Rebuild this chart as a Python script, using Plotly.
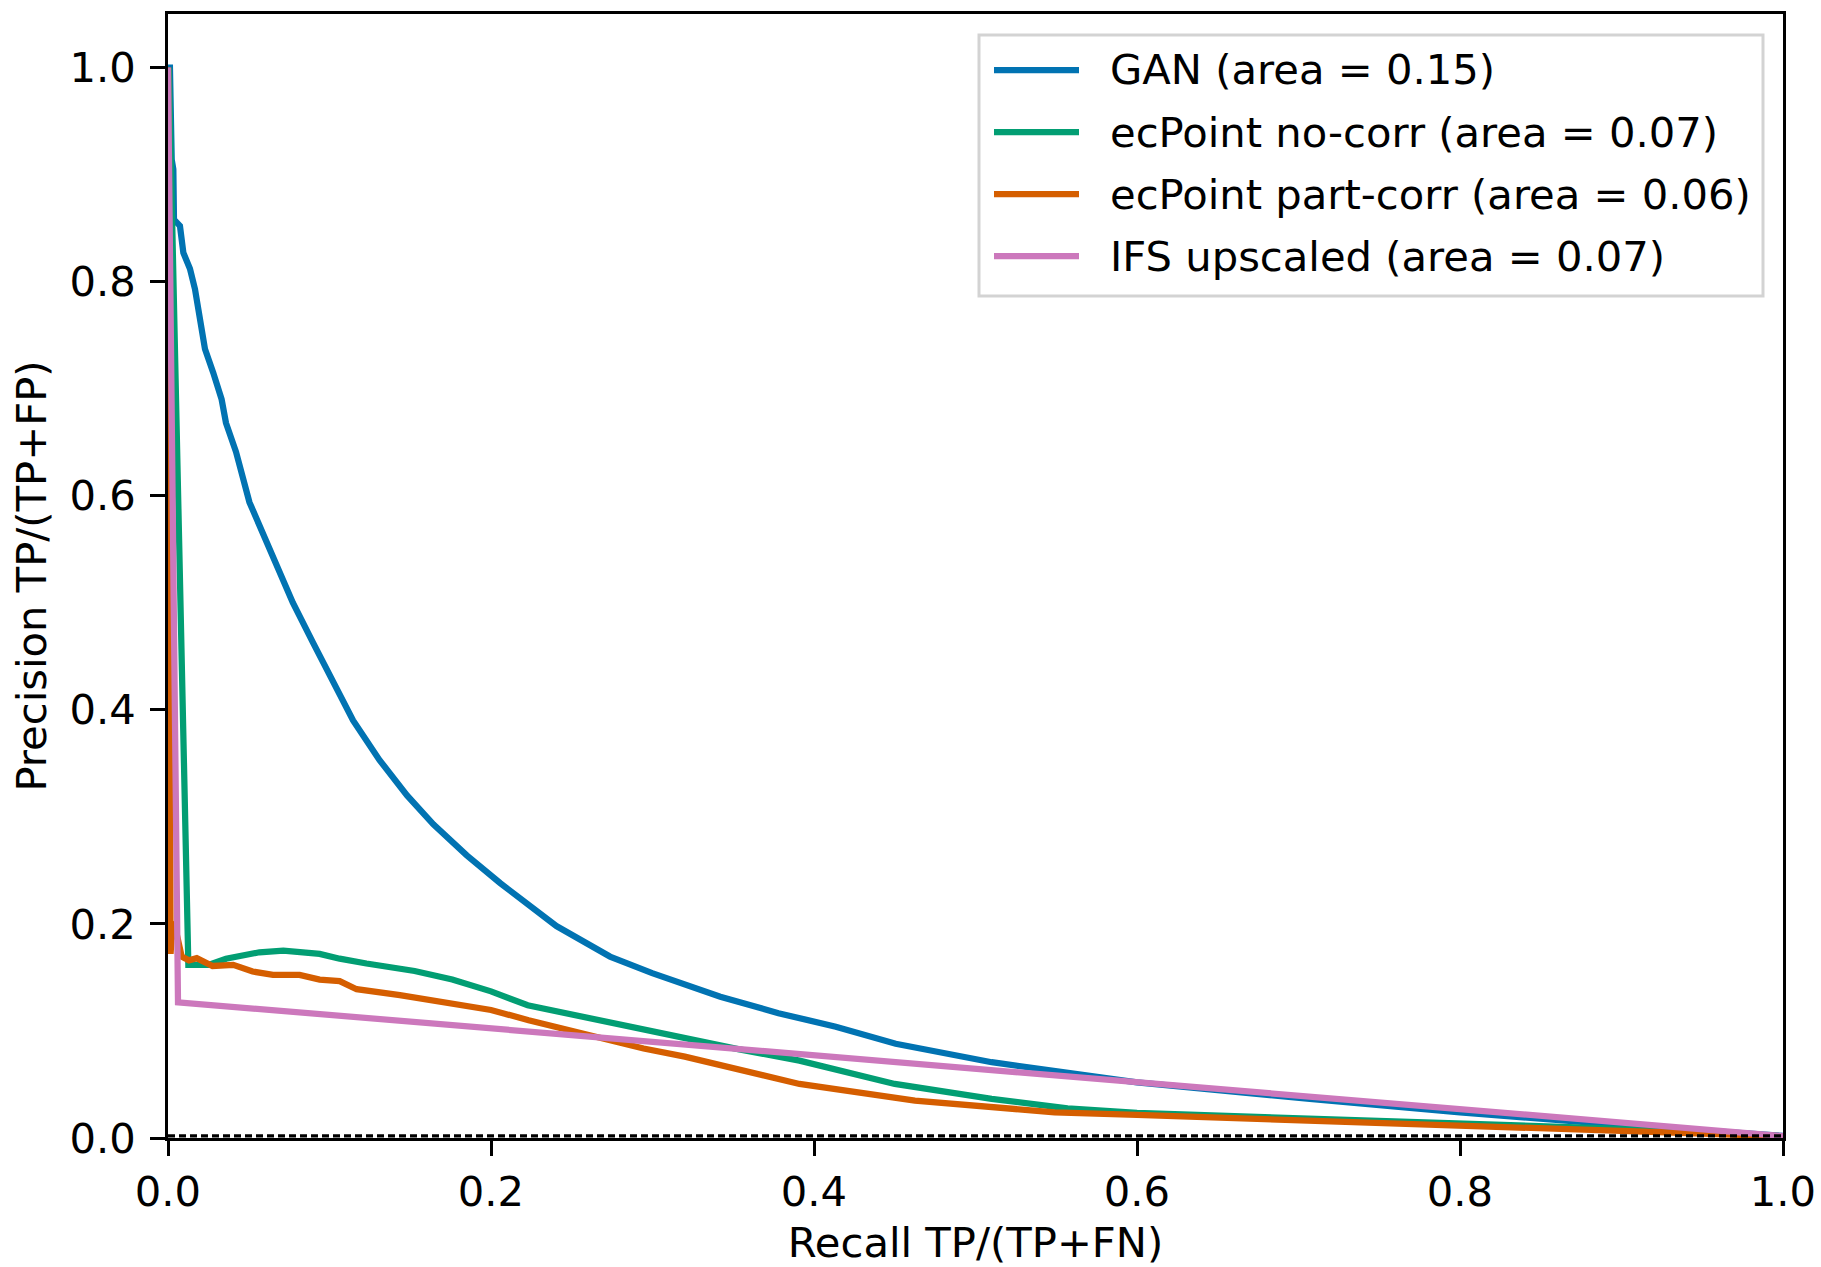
import plotly.graph_objects as go

# ---- precision/recall curves -------------------------------------------
gan_recall = [0.0, 0.0012, 0.0023, 0.0033, 0.0037, 0.0074, 0.0095, 0.0136, 0.0167,
              0.0198, 0.0229, 0.028, 0.0332, 0.0359, 0.0421, 0.0504, 0.0576, 0.067,
              0.0773, 0.0897, 0.102, 0.1146, 0.131, 0.148, 0.1643, 0.185, 0.2058,
              0.2265, 0.2405, 0.2737, 0.2998, 0.342, 0.378, 0.4135, 0.4506, 0.51,
              0.6, 0.707, 0.8, 0.905, 1.0]
gan_precision = [1.0, 1.0, 0.914, 0.905, 0.858, 0.852, 0.827, 0.812, 0.793,
                 0.768, 0.737, 0.715, 0.690, 0.668, 0.641, 0.594, 0.568, 0.534,
                 0.500, 0.463, 0.427, 0.390, 0.353, 0.320, 0.293, 0.264, 0.238,
                 0.215, 0.198, 0.1695, 0.154, 0.132, 0.1166, 0.104, 0.088, 0.0708,
                 0.052, 0.0365, 0.024, 0.0115, 0.002]

nocorr_recall = [0.0005, 0.0126, 0.0255, 0.0359, 0.0566, 0.0714, 0.0939, 0.1063,
                 0.1229, 0.1333, 0.1527, 0.176, 0.2, 0.2227, 0.2627, 0.2935, 0.329,
                 0.353, 0.391, 0.45, 0.51, 0.557, 0.6, 0.707, 0.8, 0.905, 1.0]
nocorr_precision = [1.0, 0.1618, 0.1618, 0.1675, 0.1735, 0.175, 0.172, 0.1675,
                    0.163, 0.161, 0.156, 0.148, 0.137, 0.124, 0.111, 0.1016, 0.0907,
                    0.083, 0.0723, 0.0505, 0.0365, 0.0277, 0.0234, 0.0178, 0.013,
                    0.0084, 0.0016]

partcorr_recall = [0.0, 0.0012, 0.0016, 0.0029, 0.0043, 0.0055, 0.0085, 0.013,
                   0.0178, 0.0276, 0.0404, 0.0524, 0.065, 0.0815, 0.0939, 0.1063,
                   0.1168, 0.1436, 0.1746, 0.2, 0.2233, 0.247, 0.2708, 0.2945, 0.32,
                   0.35, 0.391, 0.4625, 0.549, 0.6, 0.707, 0.8, 0.905, 1.0]
partcorr_precision = [1.0, 0.257, 0.172, 0.202, 0.188, 0.19, 0.1695, 0.166,
                      0.168, 0.1607, 0.1618, 0.1555, 0.1524, 0.1524, 0.148, 0.1466,
                      0.139, 0.1335, 0.126, 0.1196, 0.110, 0.1008, 0.0914, 0.0836,
                      0.076, 0.065, 0.0505, 0.0349, 0.024, 0.0215, 0.0162, 0.0115,
                      0.0053, 0.0016]

ifs_recall = [0.0, 0.0062, 1.0]
ifs_precision = [1.0, 0.1268, 0.0018]

series_names = ["GAN (area = 0.15)",
                "ecPoint no-corr (area = 0.07)",
                "ecPoint part-corr (area = 0.06)",
                "IFS upscaled (area = 0.07)"]
series_colors = ["#0173b2", "#029e73", "#d55e00", "#cc78bc"]

# no-skill reference: fraction of positive cases
no_skill_recall = [0.0, 1.0]
no_skill_precision = [0.002, 0.002]

tick_vals = [0.0, 0.2, 0.4, 0.6, 0.8, 1.0]

# ---- figure geometry (pixels) -----------------------------------------
W, H = 1821, 1267
ML, MR, MT, MB = 168, 38, 14, 129
PW, PH = W - ML - MR, H - MT - MB
FONT = dict(family="DejaVu Sans", size=41.7, color="black")
LINE_W = 6.25

fig = go.Figure()
curves = [(gan_recall, gan_precision), (nocorr_recall, nocorr_precision),
          (partcorr_recall, partcorr_precision), (ifs_recall, ifs_precision)]
for (rx, py), name, col in zip(curves, series_names, series_colors):
    fig.add_trace(go.Scatter(x=rx, y=py, mode="lines", name=name,
                             line=dict(color=col, width=LINE_W),
                             showlegend=False))

fig.add_trace(go.Scatter(x=no_skill_recall, y=no_skill_precision, mode="lines",
                         line=dict(color="black", width=3.3, dash="7px,4px"),
                         showlegend=False, hoverinfo="skip"))

axis_common = dict(showline=True, linecolor="black", linewidth=3.3, mirror=True,
                   ticks="outside", ticklen=14.6, tickwidth=3.3, tickcolor="black",
                   showgrid=False, zeroline=False, tickvals=tick_vals,
                   tickformat=".1f", tickfont=FONT, automargin=False)

fig.update_xaxes(range=[0, 1], ticklabelstandoff=0,
                 title=dict(text="Recall TP/(TP+FN)", font=FONT, standoff=21),
                 **axis_common)
fig.update_yaxes(range=[0, 1.05], ticklabelstandoff=6,
                 title=dict(text="Precision TP/(TP+FP)", font=FONT, standoff=11),
                 **axis_common)

# ---- legend box ----------------------------------------------------------
def px_x(v):
    return (v - ML) / PW


def px_y(v):
    return (H - MB - v) / PH


box_l, box_r, box_t, box_b = 979, 1763, 35, 296
fig.add_shape(type="rect", xref="paper", yref="paper",
              x0=px_x(box_l), x1=px_x(box_r), y0=px_y(box_b), y1=px_y(box_t),
              line=dict(color="#d3d3d3", width=3), fillcolor="rgba(255,255,255,0.8)",
              layer="above")
row_y = [70, 132, 194, 256]
for yy, name, col in zip(row_y, series_names, series_colors):
    fig.add_shape(type="line", xref="paper", yref="paper",
                  x0=px_x(994), x1=px_x(1079), y0=px_y(yy), y1=px_y(yy),
                  line=dict(color=col, width=LINE_W), layer="above")
    fig.add_annotation(xref="paper", yref="paper", x=px_x(1108), y=px_y(yy),
                       text=name, showarrow=False, xanchor="left", yanchor="middle",
                       font=FONT)

fig.update_layout(width=W, height=H, margin=dict(l=ML, r=MR, t=MT, b=MB),
                  paper_bgcolor="white", plot_bgcolor="white", font=FONT)

fig.write_html("out.html")
